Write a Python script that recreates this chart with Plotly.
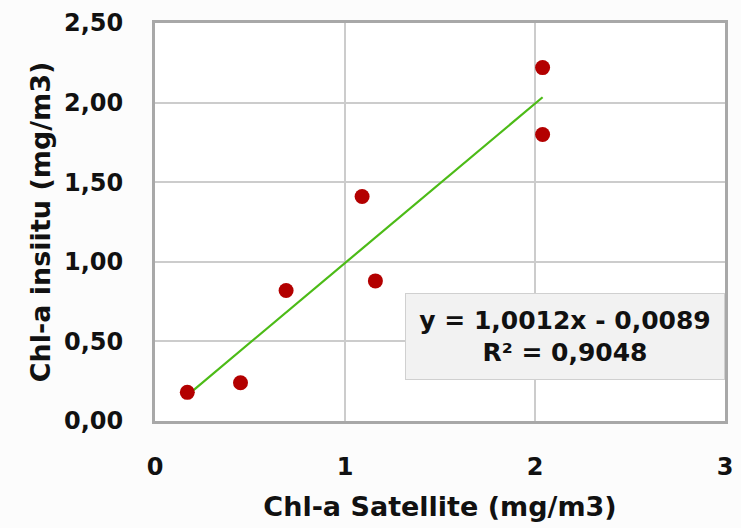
import plotly.graph_objects as go

# Data
sat_x = [0.17, 0.45, 0.69, 1.09, 1.16, 2.04, 2.04]
insitu_y = [0.18, 0.24, 0.82, 1.41, 0.88, 2.22, 1.80]

slope = 1.0012
intercept = -0.0089
eq_text = "y = 1,0012x - 0,0089<br>R² = 0,9048"

x_ticks = [0, 1, 2, 3]
y_ticks = [0, 0.5, 1.0, 1.5, 2.0, 2.5]

FONT = "DejaVu Sans"

x_min, x_max = min(sat_x), max(sat_x)
trend_x = [x_min, x_max]
trend_y = [slope * v + intercept for v in trend_x]

fig = go.Figure()
fig.add_trace(go.Scatter(
    x=trend_x, y=trend_y, mode="lines",
    line=dict(color="#4cbb17", width=2.2),
    hoverinfo="skip", showlegend=False,
))
fig.add_trace(go.Scatter(
    x=sat_x, y=insitu_y, mode="markers",
    marker=dict(color="#b30000", size=15, line=dict(width=0)),
    showlegend=False,
))

fig.add_annotation(
    xref="paper", yref="paper", x=0.72, y=0.213,
    xanchor="center", yanchor="middle",
    text=eq_text, showarrow=False,
    font=dict(family=FONT, size=25, color="#111111", weight="bold"),
    align="center", bgcolor="#f2f2f2", bordercolor="#d0d0d0", borderwidth=1,
    borderpad=2, width=314, height=81,
)

fig.update_layout(
    width=741, height=528,
    margin=dict(l=155, r=8, t=23, b=107),
    paper_bgcolor="#fcfcfc", plot_bgcolor="#ffffff",
    separators=", ",
    font=dict(family=FONT, color="#111111"),
)
fig.update_xaxes(
    range=[0, 3], tickvals=x_ticks, tickformat="d",
    showgrid=True, gridcolor="#cccccc", gridwidth=2,
    showline=True, linecolor="#a8a8a8", linewidth=3, mirror=True,
    zeroline=False, ticks="", ticklabelstandoff=22,
    tickfont=dict(family=FONT, size=24, color="#111111", weight="bold"),
    title=dict(text="Chl-a Satellite (mg/m3)", standoff=18,
               font=dict(family=FONT, size=27, color="#111111", weight="bold")),
)
fig.update_yaxes(
    range=[0, 2.5], tickvals=y_ticks, tickformat=".2f",
    showgrid=True, gridcolor="#cccccc", gridwidth=2,
    showline=True, linecolor="#a8a8a8", linewidth=3, mirror=True,
    zeroline=False, ticks="", ticklabelstandoff=24,
    tickfont=dict(family=FONT, size=24, color="#111111", weight="bold"),
    title=dict(text="Chl-a insiitu (mg/m3)", standoff=6,
               font=dict(family=FONT, size=27, color="#111111", weight="bold")),
)

fig.write_html("out.html")
